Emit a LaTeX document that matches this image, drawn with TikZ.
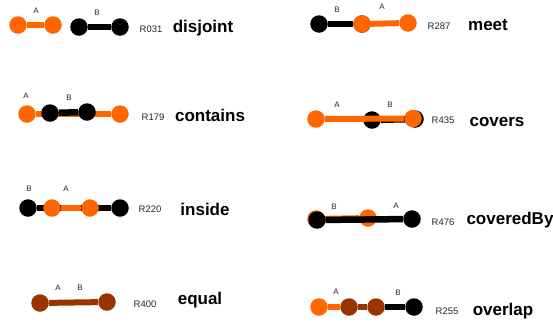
\documentclass[tikz,border=0pt]{standalone}
\usepackage{fontspec}
\setmainfont{Liberation Sans}
\definecolor{segA}{HTML}{FF6600}
\definecolor{segB}{HTML}{000000}
\definecolor{segAB}{HTML}{993300}
\tikzset{
  endA/.style={circle, fill=segA, minimum size=17.5pt, inner sep=0pt},
  endB/.style={circle, fill=segB, minimum size=17.5pt, inner sep=0pt},
  endAB/.style={circle, fill=segAB, minimum size=17.5pt, inner sep=0pt},
  barA/.style={draw=segA, line width=6pt},
  barB/.style={draw=segB, line width=6.5pt},
  barAB/.style={draw=segAB, line width=6pt},
  lbl/.style={inner sep=0pt, text=black!85, font=\fontsize{8}{9}\selectfont},
  code/.style={inner sep=0pt, text=black!85, font=\fontsize{9.5}{11}\selectfont},
  rel/.style={inner sep=0pt, font=\bfseries\fontsize{17}{20}\selectfont}
}
\begin{document}
\begin{tikzpicture}[x=1pt, y=-1pt]
\useasboundingbox (0,0) rectangle (553,322);

% ---- disjoint ----
\node[endA] (d1) at (18,25) {};
\node[endA] (d2) at (53,25) {};
\draw[barA] (d1) -- (d2);
\node[endB] (d3) at (79,27) {};
\node[endB] (d4) at (120,27) {};
\draw[barB] (d3) -- (d4);
\node[lbl] (dA) at (36,11) {A};
\node[lbl] (dB) at (97,13) {B};
\node[code] (dR) at (151,29) {R031};
\node[rel] (dT) at (203,28) {disjoint};

% ---- contains ----
\node[endA] (c1) at (27,114) {};
\node[endA] (c2) at (120,114) {};
\draw[barA] (c1) -- (c2);
\node[endB] (c3) at (50,113) {};
\node[endB] (c4) at (87,112) {};
\draw[barB] (c3) -- (c4);
\node[lbl] (cA) at (26,96) {A};
\node[lbl] (cB) at (69,98) {B};
\node[code] (cR) at (153,117) {R179};
\node[rel] (cT) at (210,115) {contains};

% ---- inside ----
\node[endB] (i1) at (28,208) {};
\node[endB] (i2) at (120,208) {};
\draw[barB] (i1) -- (i2);
\node[endA] (i3) at (52,208) {};
\node[endA] (i4) at (90,208) {};
\draw[barA] (i3) -- (i4);
\node[lbl] (iB) at (29,189) {B};
\node[lbl] (iA) at (66,189) {A};
\node[code] (iR) at (150,209) {R220};
\node[rel] (iT) at (205,209) {inside};

% ---- equal ----
\node[endAB] (e1) at (40,303) {};
\node[endAB] (e2) at (107,302) {};
\draw[barAB] (e1) -- (e2);
\node[lbl] (eA) at (58,288) {A};
\node[lbl] (eB) at (80,288) {B};
\node[code] (eR) at (145,304) {R400};
\node[rel] (eT) at (200,300) {equal};

% ---- meet ----
\node[endB] (m1) at (319,24) {};
\node[endB] (m2) at (362,24) {};
\draw[barB] (m1) -- (m2);
\node[endA] (m3) at (362,24) {};
\node[endA] (m4) at (408,23) {};
\draw[barA] (m3) -- (m4);
\node[lbl] (mB) at (337,10) {B};
\node[lbl] (mA) at (382,7) {A};
\node[code] (mR) at (439,26) {R287};
\node[rel] (mT) at (488,25) {meet};

% ---- covers ----
\node[endB] (v1) at (372,120) {};
\node[endB] (v2) at (415,119) {};
\draw[barB] (v1) -- (v2);
\node[endA] (v3) at (316,119) {};
\node[endA] (v4) at (413,118.5) {};
\draw[barA] (v3) -- (v4);
\node[lbl] (vA) at (337,105) {A};
\node[lbl] (vB) at (390,105) {B};
\node[code] (vR) at (443,120) {R435};
\node[rel] (vT) at (497,122) {covers};

% ---- coveredBy ----
\node[endA] (y1) at (316,219) {};
\node[endA] (y2) at (368,218) {};
\draw[barA] (y1) -- (y2);
\node[endB] (y3) at (317,220) {};
\node[endB] (y4) at (412,219) {};
\draw[barB] (y3) -- (y4);
\node[lbl] (yB) at (334,207) {B};
\node[lbl] (yA) at (396,206) {A};
\node[code] (yR) at (443,222) {R476};
\node[rel] (yT) at (510,220) {coveredBy};

% ---- overlap ----
\node[endA] (o1) at (319,307) {};
\node[endAB] (o2) at (349,307) {};
\draw[barA] (o1) -- (o2);
\node[endAB] (o3) at (376,307) {};
\draw[barAB] (o2) -- (o3);
\node[endB] (o4) at (414,307) {};
\draw[barB] (o3) -- (o4);
\node[lbl] (oA) at (336,292) {A};
\node[lbl] (oB) at (398,293) {B};
\node[code] (oR) at (447,311) {R255};
\node[rel] (oT) at (503,311) {overlap};
\end{tikzpicture}
\end{document}
